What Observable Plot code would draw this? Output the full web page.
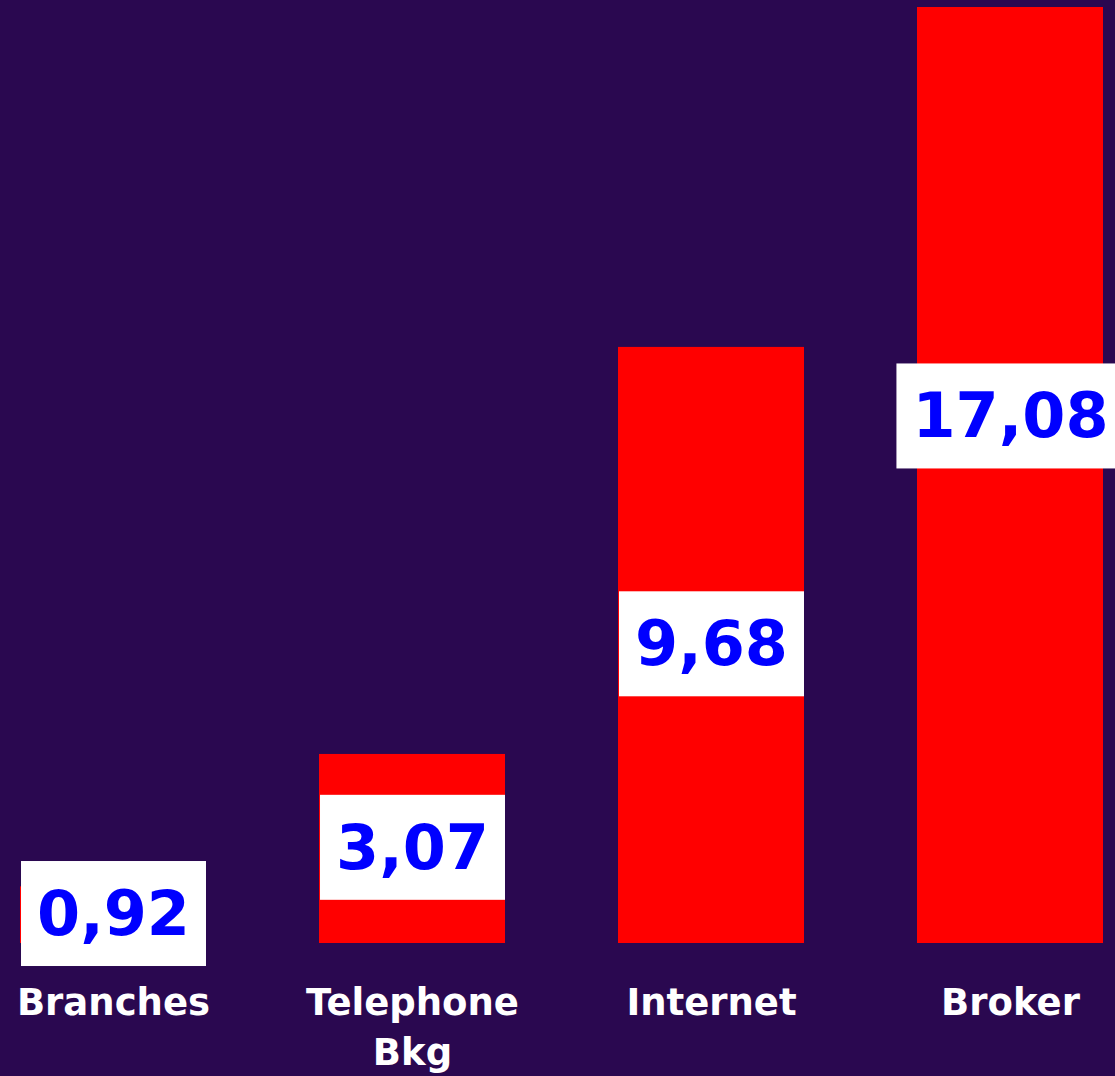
<!DOCTYPE html>
<html><head><meta charset="utf-8">
<script src="https://cdn.jsdelivr.net/npm/d3@7"></script>
<script src="https://cdn.jsdelivr.net/npm/@observablehq/plot@0.6"></script>
<style>html,body{margin:0;padding:0;background:#2a0850;overflow:hidden;} #chart svg{display:block;}</style>
</head><body><div id="chart"></div>
<script>
const categories = ["Branches", "Telephone Bkg", "Internet", "Broker"];
const values = [0.92, 3.07, 9.68, 17.08];
const tickLabels = ["Branches", "Telephone\nBkg", "Internet", "Broker"];

const data = categories.map((c, i) => ({category: c, value: values[i]}));
const fmt = v => v.toFixed(2).replace(".", ",");

const chart = Plot.plot({
  width: 1115, height: 1076,
  marginTop: 7, marginBottom: 133, marginLeft: 19, marginRight: 10,
  style: {background: "#2a0850", fontFamily: "'DejaVu Sans', sans-serif", overflow: "hidden"},
  x: {domain: categories, paddingInner: 0.377, paddingOuter: 0, axis: null},
  y: {domain: [0, 15.2], clamp: true, axis: null},
  marks: [
    Plot.barY(data, {x: "category", y: "value", fill: "#ff0000"}),
    Plot.text(data, {
      x: "category", y: d => d.value / 2, text: d => fmt(d.value),
      fill: "#0000ff", fontSize: 62, fontWeight: "bold", lineAnchor: "middle",
      className: "vlabel"
    }),
    Plot.axisX({
      tickSize: 0, tickPadding: 36, fontSize: 37, fontWeight: "bold",
      fill: "white", lineHeight: 1.35, label: null,
      tickFormat: c => tickLabels[categories.indexOf(c)]
    })
  ]
});
document.getElementById("chart").appendChild(chart);

// white boxes behind the value labels
const ns = "http://www.w3.org/2000/svg";
chart.querySelectorAll("g.vlabel text").forEach(t => {
  const bb = t.getBBox();
  const padX = 16, h = 105;
  const cy = bb.y + bb.height / 2;
  const r = document.createElementNS(ns, "rect");
  r.setAttribute("x", bb.x - padX);
  r.setAttribute("y", cy - h / 2);
  r.setAttribute("width", bb.width + 2 * padX);
  r.setAttribute("height", h);
  r.setAttribute("fill", "white");
  const tr = t.getAttribute("transform");
  if (tr) r.setAttribute("transform", tr);
  t.parentNode.insertBefore(r, t);
});
</script>
</body></html>
